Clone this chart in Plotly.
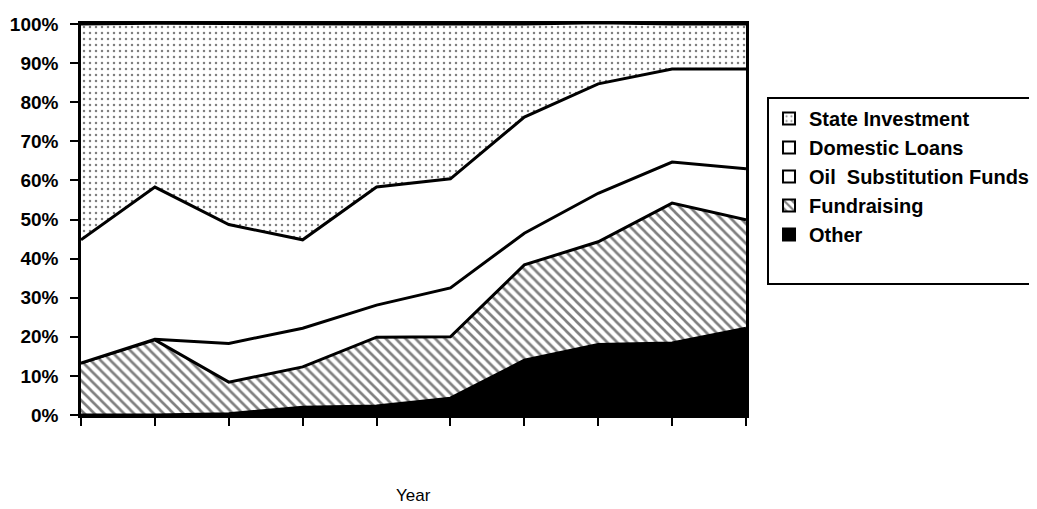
import plotly.graph_objects as go

years = list(range(10))
other = [0, 0, 0.3, 2, 2.3, 4.3, 14, 18, 18.4, 22.2]
fundraising = [13.3, 19.2, 8.1, 10.3, 17.6, 15.7, 24.4, 26.3, 35.8, 27.7]
oil_substitution = [0, 0.2, 9.9, 9.9, 8.2, 12.5, 8.1, 12.4, 10.5, 13.1]
domestic_loans = [31.5, 38.9, 30.4, 22.6, 30.2, 27.9, 29.7, 28, 23.8, 25.5]
state_investment = [55.2, 41.9, 51.4, 55.2, 41.7, 39.6, 23.8, 15.6, 11.5, 11.5]
y_ticks = [0, 10, 20, 30, 40, 50, 60, 70, 80, 90, 100]
y_labels = [f"{v}%" for v in y_ticks]

FONT = "Liberation Sans, Arial, sans-serif"
dots = dict(shape=".", fgcolor="black", bgcolor="white", size=6, solidity=0.14)
hatch = dict(shape="\\", fgcolor="black", bgcolor="white", size=7, solidity=0.38)

series = [
    ("Other", other, dict(fillcolor="black"), dict(color="black")),
    ("Fundraising", fundraising, dict(fillcolor="white", fillpattern=hatch), dict(color="white", pattern=hatch)),
    ("Oil  Substitution Funds", oil_substitution, dict(fillcolor="white"), dict(color="white")),
    ("Domestic Loans", domestic_loans, dict(fillcolor="white"), dict(color="white")),
    ("State Investment", state_investment, dict(fillcolor="white", fillpattern=dots), dict(color="white", pattern=dots)),
]

fig = go.Figure()
for name, vals, fillkw, _ in series:
    fig.add_trace(go.Scatter(x=years, y=vals, name=name, stackgroup="s", mode="lines",
                             line=dict(color="black", width=3), showlegend=False, **fillkw))

# legend entries as box swatches
for name, _, _, mk in reversed(series):
    fig.add_trace(go.Bar(x=[None], y=[None], name=name,
                         marker=dict(line=dict(color="black", width=2), **mk)))
# blank row to give the legend box its bottom padding
fig.add_trace(go.Bar(x=[None], y=[None], name=" ",
                     marker=dict(color="rgba(0,0,0,0)", line=dict(width=0))))

fig.update_layout(
    width=1029, height=501,
    margin=dict(l=73, r=291, t=16, b=94, autoexpand=False),
    paper_bgcolor="white", plot_bgcolor="white",
    font=dict(family=FONT, color="black"),
    showlegend=True,
    legend=dict(
        x=1.0316, y=0.813, xanchor="left", yanchor="top",
        traceorder="normal",
        bordercolor="black", borderwidth=2, bgcolor="white",
        font=dict(size=20, weight="bold", family=FONT),
        itemwidth=30,
    ),
    xaxis=dict(
        type="linear", range=[0, 9], tickvals=years, ticktext=["" for _ in years],
        showgrid=False, zeroline=False, showline=True, linecolor="black", linewidth=2.5,
        mirror=True, ticks="outside", ticklen=8, tickwidth=2, tickcolor="black",
    ),
    yaxis=dict(
        range=[0, 100], tickvals=y_ticks, ticktext=y_labels,
        showgrid=False, zeroline=False, showline=True, linecolor="black", linewidth=2.5,
        mirror=True, ticks="outside", ticklen=8, tickwidth=2, tickcolor="black",
        ticklabelstandoff=8,
        tickfont=dict(size=19, weight="bold", family=FONT),
    ),
    annotations=[dict(text="Year", x=0.5, y=-0.207, xref="paper", yref="paper", showarrow=False,
                      xanchor="center", yanchor="middle", font=dict(size=17))],
)

fig.write_html("out.html")
